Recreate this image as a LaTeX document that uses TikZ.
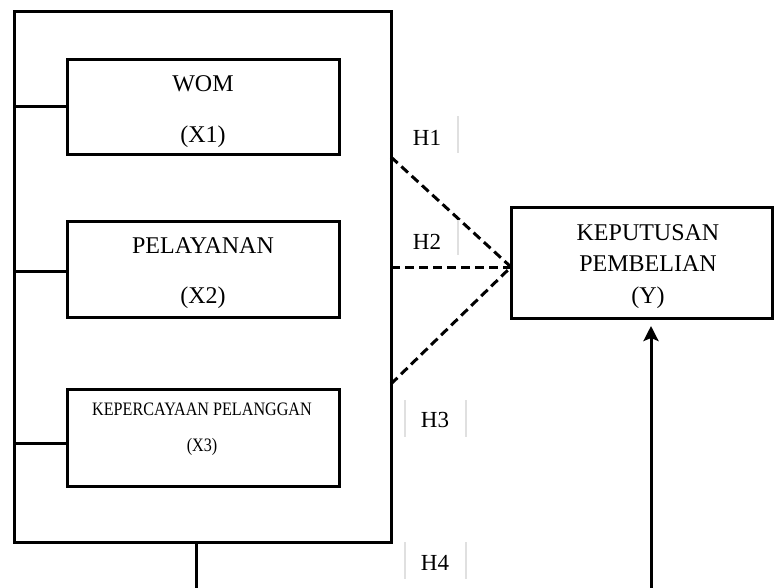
\documentclass[tikz,border=0pt]{standalone}
\usepackage{fontspec}
\setmainfont{Liberation Serif}
\usetikzlibrary{arrows.meta,positioning,calc}
\tikzset{
  varbox/.style  ={draw=black,line width=3pt,fill=white,anchor=north west,
                   inner sep=0pt,outer sep=0pt},
  vtxt/.style    ={font=\fontsize{24}{28}\selectfont,inner sep=0pt},
  vsmall/.style  ={font=\fontsize{19}{22}\selectfont,inner sep=0pt,xscale=0.85},
  hyp/.style     ={font=\fontsize{23}{27}\selectfont,inner sep=0pt},
  link/.style    ={draw=black,line width=3pt},
  dashlink/.style={draw=black,line width=3pt,dash pattern=on 9pt off 5pt},
  cellrule/.style={draw=black!12,line width=1.2pt},
  arr/.style     ={-{Stealth[length=15pt,width=15pt,inset=3pt]},draw=black,line width=3pt},
}
\begin{document}
\begin{tikzpicture}[x=1pt,y=-1pt]
\useasboundingbox (0,0) rectangle (774,587);

% ===== outer frame and the three variable boxes ============================
\node[varbox,minimum width=377pt,minimum height=531pt] (frame) at (14,11) {};
\node[varbox,minimum width=272pt,minimum height=95pt]  (wom)   at (67,59)  {};
\node[varbox,minimum width=272pt,minimum height=96pt]  (pel)   at (67,221) {};
\node[varbox,minimum width=272pt,minimum height=97pt]  (kp)    at (67,389) {};

\node[vtxt]   at (203,84)  {WOM};
\node[vtxt]   at (203,137) {(X1)};
\node[vtxt]   at (203,246) {PELAYANAN};
\node[vtxt]   at (203,298) {(X2)};
\node[vsmall] at (202,409) {KEPERCAYAAN PELANGGAN};
\node[vsmall] at (202,447) {(X3)};

% stubs from the frame to each box
\foreach \n/\yy in {wom/106,pel/271,kp/443}{
  \draw[link] (frame.west|-0,\yy) -- (\n.west|-0,\yy);}

% ===== dependent variable ==================================================
\node[varbox,minimum width=261pt,minimum height=111pt] (kep) at (511,207) {};
\node[vtxt] at (648,233) {KEPUTUSAN};
\node[vtxt] at (648,264) {PEMBELIAN};
\node[vtxt] at (648,298) {(Y)};

% ===== hypotheses ==========================================================
\coordinate (h1s) at (frame.east|-0,157);
\coordinate (h2s) at (frame.east|-0,267);
\coordinate (h3s) at (frame.east|-0,384);
\coordinate (kin) at (kep.west|-0,267);
\draw[dashlink] (h1s) -- (kin);
\draw[dashlink] (h2s) -- (kin);
\draw[dashlink] (h3s) -- (kin);

\node[hyp] (H1) at (427,138) {H1};
\node[hyp] (H2) at (427,242) {H2};
\node[hyp] (H3) at (435,420) {H3};
\node[hyp] (H4) at (435,563) {H4};
\draw[cellrule] (458,116) -- (458,153);
\draw[cellrule] (458,220) -- (458,255);
\foreach \yy in {400,542}{
  \draw[cellrule] (405,\yy) -- (405,\yy+37);
  \draw[cellrule] (466,\yy) -- (466,\yy+37);}

% ===== simultaneous path (runs off the bottom edge) ========================
\coordinate (stemend) at (196,590);
\coordinate (arrbeg)  at (651,590);
\draw[link] (frame.south-|stemend) -- (stemend);
\draw[arr] (arrbeg) -- ($(kep.south-|arrbeg)+(0,8)$);
\end{tikzpicture}
\end{document}
